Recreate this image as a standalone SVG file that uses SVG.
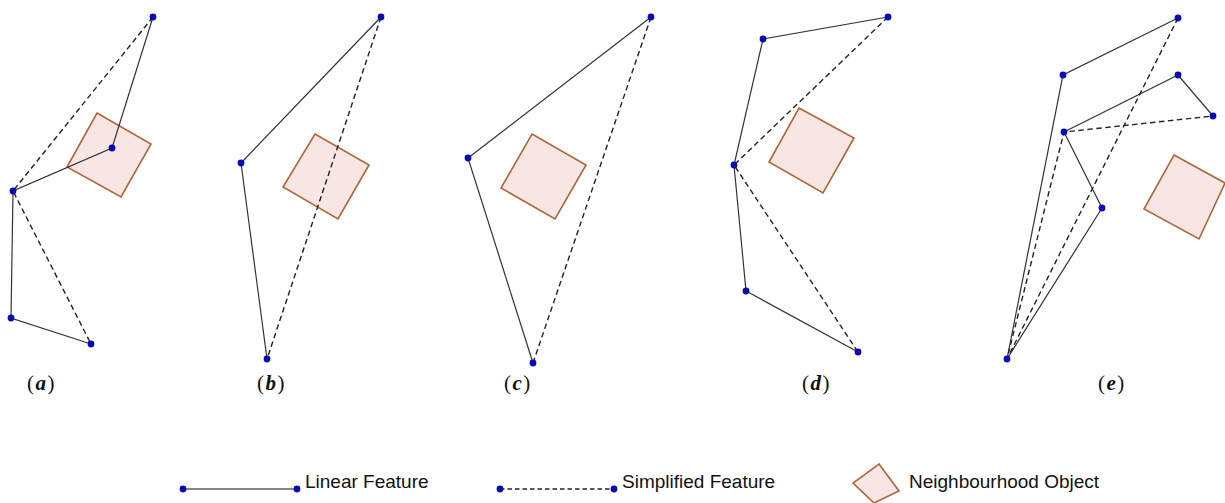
<svg xmlns="http://www.w3.org/2000/svg" width="1225" height="503" viewBox="0 0 1225 503">
<style>
.sq{fill:#f7e6e1;stroke:#b0643a;stroke-width:1.6}
.ln{stroke:#333;stroke-width:1.2;fill:none}
.ds{stroke:#222;stroke-width:1.4;fill:none;stroke-dasharray:5.5 3.5}
.nd{fill:#0a0ab4}
.lb{font-family:"Liberation Serif",serif;font-size:21px;fill:#111;letter-spacing:1.5px}
.lbi{font-style:italic;font-weight:bold}
.lg{font-family:"Liberation Sans",Arial,sans-serif;font-size:19px;fill:#111}
</style>
<rect width="1225" height="503" fill="#fff"/>

<!-- Panel a -->
<g id="panel-a">
<polygon class="sq" points="97,113 151,144 121,197 67,167"/>
<g id="conn-a">
<polyline class="ln" points="153,17 112,148 13,191 11,318 91,344"/>
<polyline class="ds" points="153,17 13,191 91,344"/>
</g>
<circle class="nd" cx="153" cy="17" r="3.4"/>
<circle class="nd" cx="112" cy="148" r="3.4"/>
<circle class="nd" cx="13" cy="191" r="3.4"/>
<circle class="nd" cx="11" cy="318" r="3.4"/>
<circle class="nd" cx="91" cy="344" r="3.4"/>
<text class="lb" x="27" y="390">(<tspan class="lbi">a</tspan>)</text>
</g>

<!-- Panel b -->
<g id="panel-b">
<polygon class="sq" points="315,134 369,165 338,219 283,187"/>
<g id="conn-b">
<polyline class="ln" points="381,17 241,163 267,359"/>
<polyline class="ds" points="381,17 267,359"/>
</g>
<circle class="nd" cx="381" cy="17" r="3.4"/>
<circle class="nd" cx="241" cy="163" r="3.4"/>
<circle class="nd" cx="267" cy="359" r="3.4"/>
<text class="lb" x="257" y="390">(<tspan class="lbi">b</tspan>)</text>
</g>

<!-- Panel c -->
<g id="panel-c">
<polygon class="sq" points="532,134 586,165 555,219 501,188"/>
<g id="conn-c">
<polyline class="ln" points="651,17 468,158 533,363"/>
<polyline class="ds" points="651,17 533,363"/>
</g>
<circle class="nd" cx="651" cy="17" r="3.4"/>
<circle class="nd" cx="468" cy="158" r="3.4"/>
<circle class="nd" cx="533" cy="363" r="3.4"/>
<text class="lb" x="504" y="390">(<tspan class="lbi">c</tspan>)</text>
</g>

<!-- Panel d -->
<g id="panel-d">
<polygon class="sq" points="799,108 854,138 823,193 769,162"/>
<g id="conn-d">
<polyline class="ln" points="888,17 763,39 734,165 746,291 858,352"/>
<polyline class="ds" points="888,17 734,165 858,352"/>
</g>
<circle class="nd" cx="888" cy="17" r="3.4"/>
<circle class="nd" cx="763" cy="39" r="3.4"/>
<circle class="nd" cx="734" cy="165" r="3.4"/>
<circle class="nd" cx="746" cy="291" r="3.4"/>
<circle class="nd" cx="858" cy="352" r="3.4"/>
<text class="lb" x="802" y="390">(<tspan class="lbi">d</tspan>)</text>
</g>

<!-- Panel e -->
<g id="panel-e">
<polygon class="sq" points="1174,155 1225,183 1199,239 1144,209"/>
<g id="conn-e">
<polyline class="ln" points="1178,18 1063,75 1007,359 1102,208 1064,132 1178,75 1213,116"/>
<polyline class="ds" points="1178,18 1007,359 1064,132 1213,116"/>
</g>
<circle class="nd" cx="1178" cy="18" r="3.4"/>
<circle class="nd" cx="1063" cy="75" r="3.4"/>
<circle class="nd" cx="1178" cy="75" r="3.4"/>
<circle class="nd" cx="1213" cy="116" r="3.4"/>
<circle class="nd" cx="1064" cy="132" r="3.4"/>
<circle class="nd" cx="1102" cy="208" r="3.4"/>
<circle class="nd" cx="1007" cy="359" r="3.4"/>
<text class="lb" x="1098" y="390">(<tspan class="lbi">e</tspan>)</text>
</g>

<!-- Legend -->
<g id="legend-linear">
<line class="ln" x1="183" y1="489" x2="297" y2="489" style="stroke:#111"/>
<circle class="nd" cx="183" cy="489" r="3.4"/>
<circle class="nd" cx="297" cy="489" r="3.4"/>
<text class="lg" x="305" y="488">Linear Feature</text>
</g>
<g id="legend-simplified">
<line class="ds" x1="500" y1="489" x2="614" y2="489" style="stroke-dasharray:4.5 3"/>
<circle class="nd" cx="500" cy="489" r="3.4"/>
<circle class="nd" cx="614" cy="489" r="3.4"/>
<text class="lg" x="622" y="488">Simplified Feature</text>
</g>
<g id="legend-neighbourhood">
<polygon class="sq" points="879,464 899,491 874,503 853,483"/>
<text class="lg" x="909" y="488">Neighbourhood Object</text>
</g>
</svg>
